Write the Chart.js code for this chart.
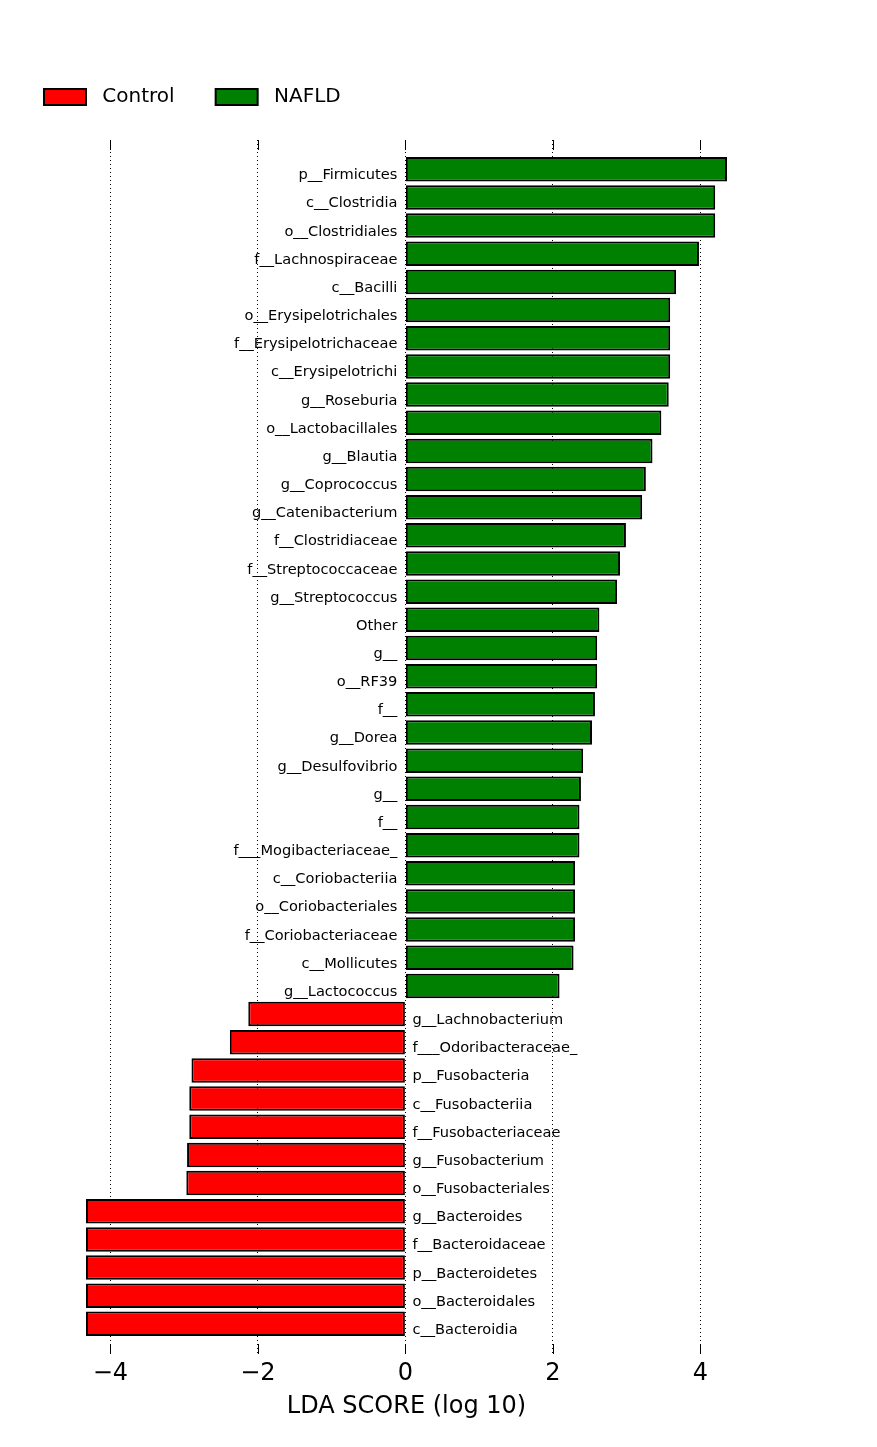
<!DOCTYPE html>
<html lang="en">
<head>
    <meta charset="UTF-8">
    <script src="https://cdn.jsdelivr.net/npm/chart.js@4.4.0/dist/chart.umd.min.js"></script>
    <title>LDA score</title>
    <style>
        body { margin: 0; background: #fff; }
    </style>
</head>
<body>
    <canvas id="chart" width="877" height="1447"></canvas>

    <script>
        // rows from top to bottom
        const nafldNames = [
            'p__Firmicutes', 'c__Clostridia', 'o__Clostridiales', 'f__Lachnospiraceae', 'c__Bacilli',
            'o__Erysipelotrichales', 'f__Erysipelotrichaceae', 'c__Erysipelotrichi', 'g__Roseburia',
            'o__Lactobacillales', 'g__Blautia', 'g__Coprococcus', 'g__Catenibacterium', 'f__Clostridiaceae',
            'f__Streptococcaceae', 'g__Streptococcus', 'Other', 'g__', 'o__RF39', 'f__', 'g__Dorea',
            'g__Desulfovibrio', 'g__', 'f__', 'f___Mogibacteriaceae_', 'c__Coriobacteriia',
            'o__Coriobacteriales', 'f__Coriobacteriaceae', 'c__Mollicutes', 'g__Lactococcus'
        ];
        const nafldScores = [
            4.36, 4.20, 4.20, 3.98, 3.67,
            3.59, 3.59, 3.59, 3.57,
            3.47, 3.35, 3.26, 3.21, 2.99,
            2.91, 2.87, 2.63, 2.60, 2.60, 2.57, 2.53,
            2.41, 2.38, 2.36, 2.36, 2.30,
            2.30, 2.30, 2.28, 2.09
        ];

        const controlNames = [
            'g__Lachnobacterium', 'f___Odoribacteraceae_', 'p__Fusobacteria', 'c__Fusobacteriia',
            'f__Fusobacteriaceae', 'g__Fusobacterium', 'o__Fusobacteriales', 'g__Bacteroides',
            'f__Bacteroidaceae', 'p__Bacteroidetes', 'o__Bacteroidales', 'c__Bacteroidia'
        ];
        const controlScores = [
            -2.13, -2.38, -2.90, -2.93,
            -2.93, -2.96, -2.97, -4.33,
            -4.33, -4.33, -4.33, -4.33
        ];

        const xTicks = [-4, -2, 0, 2, 4];
        const rowCount = nafldNames.length + controlNames.length;

        // row index on a linear y scale (0 = top)
        const nafldPoints = nafldScores.map((v, i) => ({ x: v, y: i }));
        const controlPoints = controlScores.map((v, i) => ({ x: v, y: nafldNames.length + i }));

        const FONT = '"DejaVu Sans", "Liberation Sans", sans-serif';

        // feature names next to the zero line, like LEfSe does
        const barLabels = {
            id: 'barLabels',
            afterDatasetsDraw(chart) {
                const ctx = chart.ctx;
                const zero = chart.scales.x.getPixelForValue(0);
                const names = [controlNames, nafldNames];
                ctx.save();
                ctx.font = '14.6px ' + FONT;
                ctx.fillStyle = '#000';
                ctx.textBaseline = 'alphabetic';
                chart.data.datasets.forEach((ds, di) => {
                    chart.getDatasetMeta(di).data.forEach((bar, i) => {
                        if (ds.data[i].x >= 0) {
                            ctx.textAlign = 'right';
                            ctx.fillText(names[di][i], zero - 8, bar.y + 10);
                        } else {
                            ctx.textAlign = 'left';
                            ctx.fillText(names[di][i], zero + 7, bar.y + 10);
                        }
                    });
                });
                ctx.restore();
            }
        };

        // small inward tick marks at top and bottom of the plot
        const innerTicks = {
            id: 'innerTicks',
            afterDraw(chart) {
                const ctx = chart.ctx;
                const area = chart.chartArea;
                ctx.save();
                ctx.strokeStyle = '#000';
                ctx.lineWidth = 1;
                chart.scales.x.ticks.forEach(t => {
                    const px = Math.round(chart.scales.x.getPixelForValue(t.value)) + 0.5;
                    ctx.beginPath();
                    ctx.moveTo(px, area.bottom);
                    ctx.lineTo(px, area.bottom - 10);
                    ctx.moveTo(px, area.top);
                    ctx.lineTo(px, area.top + 10);
                    ctx.stroke();
                });
                ctx.restore();
            }
        };

        const ctx = document.getElementById('chart').getContext('2d');
        new Chart(ctx, {
            type: 'bar',
            data: {
                datasets: [{
                    label: 'Control',
                    data: controlPoints,
                    backgroundColor: '#ff0000',
                    borderColor: '#000000',
                    borderWidth: 2,
                    borderSkipped: false,
                    grouped: false,
                    barPercentage: 0.87,
                    categoryPercentage: 1
                }, {
                    label: 'NAFLD',
                    data: nafldPoints,
                    backgroundColor: '#008000',
                    borderColor: '#000000',
                    borderWidth: 2,
                    borderSkipped: false,
                    grouped: false,
                    barPercentage: 0.87,
                    categoryPercentage: 1
                }]
            },
            options: {
                indexAxis: 'y',
                responsive: false,
                animation: false,
                layout: { padding: { left: 3, right: 150, top: 46, bottom: 0 } },
                plugins: {
                    tooltip: { enabled: false },
                    legend: {
                        position: 'top',
                        align: 'start',
                        labels: {
                            boxWidth: 42,
                            boxHeight: 16,
                            padding: 41,
                            color: '#000',
                            font: { family: FONT, size: 20 },
                            generateLabels(chart) {
                                const items = Chart.defaults.plugins.legend.labels.generateLabels(chart);
                                items.forEach(it => { it.text = ' ' + it.text; });
                                return items;
                            }
                        }
                    }
                },
                scales: {
                    x: {
                        type: 'linear',
                        position: 'bottom',
                        min: Math.min(...controlScores),
                        max: Math.max(...nafldScores),
                        z: 1,
                        afterBuildTicks: s => { s.ticks = xTicks.map(v => ({ value: v })); },
                        afterFit: s => { s.height = 93; },
                        border: { display: false, dash: [1, 3] },
                        grid: {
                            color: '#000',
                            lineWidth: 1,
                            drawTicks: false
                        },
                        ticks: {
                            padding: 5,
                            color: '#000',
                            font: { family: FONT, size: 24 },
                            callback: v => (v < 0 ? '\u2212' + Math.abs(v) : String(v))
                        },
                        title: {
                            display: true,
                            text: 'LDA SCORE (log 10)',
                            color: '#000',
                            font: { family: FONT, size: 24 },
                            padding: { top: 0, bottom: 26 }
                        }
                    },
                    xTop: {
                        type: 'linear',
                        axis: 'x',
                        position: 'top',
                        afterFit: s => { s.height = 23; },
                        border: { display: false },
                        grid: { display: false },
                        ticks: { display: false }
                    },
                    y: {
                        type: 'linear',
                        reverse: true,
                        offset: false,
                        min: -1.04,
                        max: rowCount + 0.07,
                        afterFit: s => { s.width = 83; },
                        border: { display: false },
                        grid: { display: false, offset: false },
                        ticks: { display: false }
                    }
                }
            },
            plugins: [barLabels, innerTicks]
        });
    </script>
</body>
</html>
